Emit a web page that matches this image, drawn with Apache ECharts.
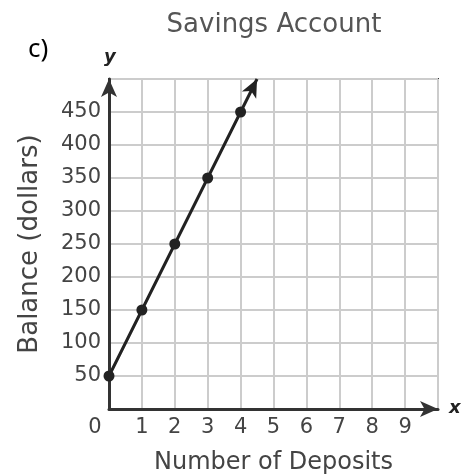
<!DOCTYPE html>
<html>
<head>
<meta charset="utf-8">
<script src="https://cdn.jsdelivr.net/npm/echarts@6/dist/echarts.min.js"></script>
<style>
  html, body { margin: 0; padding: 0; background: #fff; }
  #main { width: 468px; height: 475px; }
</style>
</head>
<body>
<div id="main"></div>
<script>
// deposits vs balance
var deposits = [0, 1, 2, 3, 4];
var balance = [50, 150, 250, 350, 450];
// where the arrow of the line ends
var arrowEnd = [4.5, 500];

var points = deposits.map(function (d, i) { return [d, balance[i]]; });
var last = points[points.length - 1];

var chart = echarts.init(document.getElementById('main'));
var option = {
    animation: false,
    title: {
        text: 'Savings Account',
        left: 269,
        textAlign: 'center',
        top: 7,
        textStyle: { fontFamily: 'DejaVu Sans', fontSize: 26, fontWeight: 'normal', color: '#555' }
    },
    graphic: [
        { type: 'text', left: 28, top: 37, style: { text: 'c)', fontFamily: 'Noto Sans', fontSize: 26, fill: '#000' } },
        { type: 'text', left: 104, top: 48, style: { text: 'y', fontFamily: 'DejaVu Sans', fontStyle: 'italic', fontWeight: 'bold', fontSize: 18, fill: '#222' } },
        { type: 'text', left: 449, top: 399, style: { text: 'x', fontFamily: 'DejaVu Sans', fontStyle: 'italic', fontWeight: 'bold', fontSize: 18, fill: '#222' } }
    ],
    grid: {
        left: 109, right: 30, top: 79, bottom: 66,
        outerBoundsMode: 'none',
        show: true, borderColor: '#333', borderWidth: 2
    },
    xAxis: {
        type: 'value',
        min: 0, max: 10, interval: 1,
        name: 'Number of Deposits',
        nameLocation: 'middle',
        nameGap: 42,
        nameTextStyle: { fontFamily: 'DejaVu Sans', fontSize: 24, color: '#444' },
        axisLine: { lineStyle: { color: '#333', width: 3 }, symbol: ['none', 'arrow'], symbolSize: [12, 18] },
        axisTick: { show: false },
        splitLine: { lineStyle: { color: '#ccc', width: 2 } },
        axisLabel: {
            margin: 8,
            fontFamily: 'DejaVu Sans', fontSize: 21, color: '#444',
            formatter: function (v) {
                if (v === 10) return '';
                if (v === 0) return '{z|0}';
                return v;
            },
            rich: { z: { fontFamily: 'DejaVu Sans', fontSize: 21, color: '#444', padding: [0, 28, 0, 0] } }
        }
    },
    yAxis: {
        type: 'value',
        min: 0, max: 500, interval: 50,
        name: 'Balance (dollars)',
        nameLocation: 'middle',
        nameGap: 66,
        nameTextStyle: { fontFamily: 'DejaVu Sans', fontSize: 26, color: '#444' },
        axisLine: { show: true, lineStyle: { color: '#333', width: 3 }, symbol: ['none', 'arrow'], symbolSize: [12, 18] },
        axisTick: { show: false },
        splitLine: { lineStyle: { color: '#ccc', width: 2 } },
        axisLabel: {
            margin: 8,
            fontFamily: 'DejaVu Sans', fontSize: 21, color: '#444',
            formatter: function (v) { return (v === 0 || v === 500) ? '' : v; }
        }
    },
    series: [{
        type: 'line',
        data: points,
        symbol: 'circle',
        symbolSize: 11,
        itemStyle: { color: '#222' },
        lineStyle: { color: '#222', width: 3 },
        markLine: {
            silent: true,
            symbol: ['none', 'arrow'],
            symbolSize: [12, 18],
            label: { show: false },
            lineStyle: { color: '#222', width: 3, type: 'solid' },
            data: [[{ coord: last }, { coord: arrowEnd }]]
        }
    }]
};
chart.setOption(option);
</script>
</body>
</html>
